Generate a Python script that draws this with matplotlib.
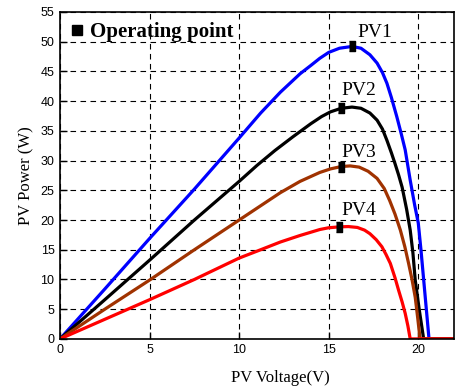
import matplotlib
matplotlib.use('Agg')
import matplotlib.pyplot as plt
from matplotlib.lines import Line2D

# PV1 (blue)
v1 = [0, 2.5, 5, 7.5, 10, 11.2, 12.3, 13.4, 14.0, 14.5, 15.0, 15.6, 16.3, 16.8, 17.3, 17.7, 18.0, 18.25,
      18.5, 18.8, 19.05, 19.27, 19.55, 19.8, 20.0, 20.15, 20.3, 20.45, 20.6, 22]
p1 = [0, 8.4, 16.9, 25.2, 33.8, 38.0, 41.5, 44.6, 46.0, 47.2, 48.2, 48.9, 49.2, 48.9, 47.8, 46.4, 44.8, 43.0,
      40.6, 37.4, 34.5, 31.8, 26.7, 22.5, 19.5, 15.0, 10.0, 5.0, 0, 0]
# PV2 (black)
v2 = [0, 2.5, 5, 7.5, 10, 11, 12, 13, 14, 14.6, 15.1, 15.7, 16.3, 16.8, 17.3, 17.7, 18.0, 18.25, 18.5,
      18.7, 18.9, 19.1, 19.35, 19.55, 19.7, 19.83, 20.05, 20.3, 22]
p2 = [0, 6.6, 13.25, 20.0, 26.5, 29.2, 31.7, 34.0, 36.2, 37.4, 38.2, 38.8, 39.0, 38.8, 38.0, 36.8, 35.3, 33.4, 31.3,
      29.5, 27.6, 25.5, 21.8, 18.3, 14.5, 9.9, 5.0, 0, 0]
# PV3 (brown)
v3 = [0, 2.5, 5, 7.5, 10, 11.2, 12.3, 13.4, 14.5, 15.1, 15.7, 16.2, 16.7, 17.2, 17.7, 18.1, 18.4, 18.7,
      19.0, 19.25, 19.46, 19.65, 19.83, 19.97, 20.1, 22]
p3 = [0, 5.0, 9.9, 15.0, 20.0, 22.4, 24.6, 26.5, 28.0, 28.6, 29.0, 29.1, 28.9, 28.2, 27.0, 25.3, 23.3, 21.0,
      18.3, 15.5, 12.7, 10.0, 7.0, 3.5, 0, 0]
# PV4 (red)
v4 = [0, 2.5, 5, 7.5, 10, 11.2, 12.3, 13.4, 14.5, 15.0, 15.6, 16.1, 16.6, 17.0, 17.3, 17.65, 17.97, 18.2,
      18.44, 18.7, 18.9, 19.1, 19.27, 19.42, 19.55, 22]
p4 = [0, 3.3, 6.6, 10.0, 13.6, 15.0, 16.3, 17.4, 18.4, 18.7, 18.85, 18.9, 18.75, 18.3, 17.7, 16.7, 15.5, 14.2,
      12.7, 10.3, 8.2, 6.2, 4.3, 2.2, 0, 0]

# operating points
op_v = [16.3, 15.7, 15.7, 15.6]
op_p = [49.2, 38.8, 29.0, 18.85]

names = ['PV1', 'PV2', 'PV3', 'PV4']
name_v = [16.6, 15.7, 15.7, 15.7]
name_p = [50.8, 41.0, 30.6, 20.8]

fig = plt.figure(figsize=(4.55, 3.86), dpi=100)
ax = fig.add_axes([0.132, 0.122, 0.866, 0.847])

ax.plot(v1, p1, c='#0000ff', lw=2.3)
ax.plot(v2, p2, c='k', lw=2.3)
ax.plot(v3, p3, c='#a03200', lw=2.3)
ax.plot(v4, p4, c='#ff0000', lw=2.3)

rect = [(-0.3, -0.5), (0.3, -0.5), (0.3, 0.5), (-0.3, 0.5)]
ax.plot(op_v, op_p, ls='none', marker=rect, ms=7, c='k', zorder=5)

for n, x, y in zip(names, name_v, name_p):
    ax.text(x, y, n, family='Liberation Serif', fontsize=14, ha='left', va='baseline')

ax.set_xlim(0, 22)
ax.set_ylim(0, 55)
ax.set_xticks([0, 5, 10, 15, 20])
ax.set_yticks(range(0, 56, 5))
ax.grid(True, color='k', lw=0.8, linestyle=(0, (5, 4)))
ax.set_axisbelow(True)
ax.tick_params(direction='in', length=5, width=1, labelsize=9, pad=4)
for lab in ax.get_xticklabels() + ax.get_yticklabels():
    lab.set_family('Liberation Sans')
for s in ax.spines.values():
    s.set_linewidth(1.2)

ax.set_xlabel('PV Voltage(V)', family='Liberation Serif', fontsize=12)
ax.set_ylabel('PV Power (W)', family='Liberation Serif', fontsize=12)
ax.xaxis.set_label_coords((280 - 60) / 394, -0.095)
ax.yaxis.set_label_coords(-0.065, 0.5)

h = Line2D([], [], ls='none', marker='s', ms=7, c='k')
ax.legend([h], ['Operating point'], loc='upper left', frameon=False,
          prop={'family': 'Liberation Serif', 'weight': 'bold', 'size': 15},
          handlelength=0.6, handletextpad=0.35, borderaxespad=0.3, borderpad=0.2)

fig.savefig('out.png', dpi=100)
